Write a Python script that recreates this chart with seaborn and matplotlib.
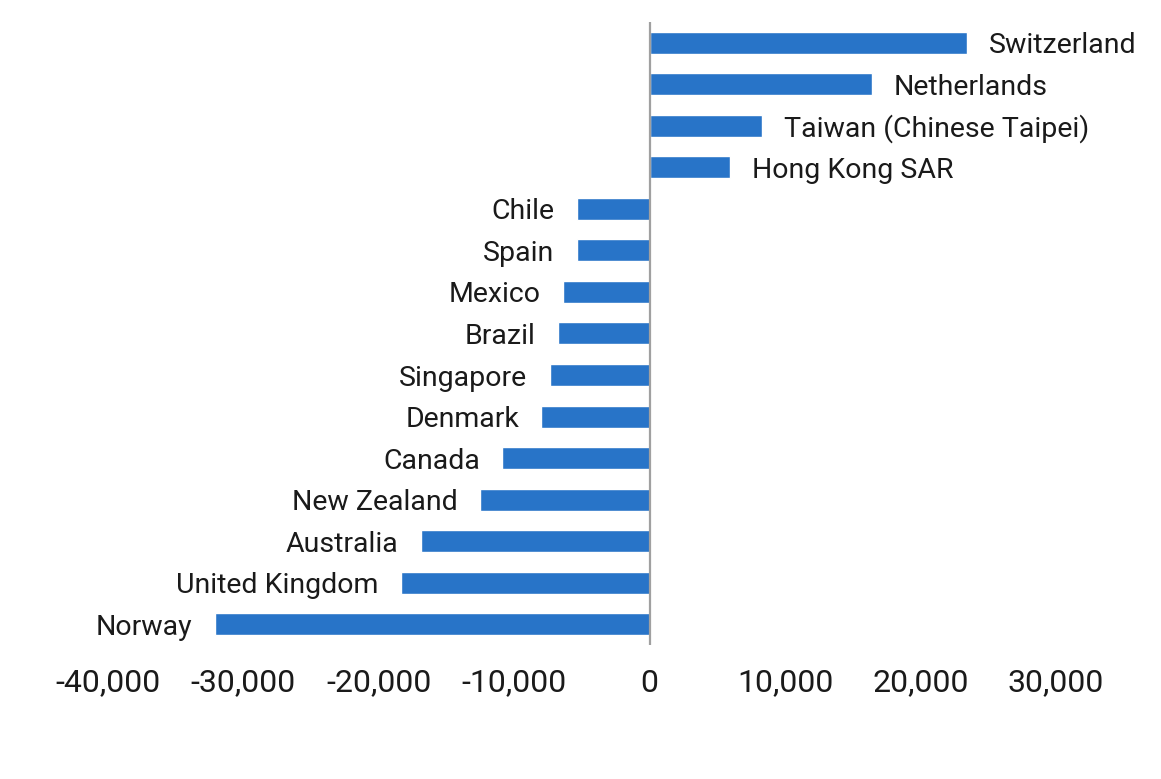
import numpy as np
import seaborn as sb
import pandas as pd
import matplotlib.pyplot as plt

COUNTRIES = ['Switzerland', 'Netherlands', 'Taiwan (Chinese Taipei)', 'Hong Kong SAR',
             'Chile', 'Spain', 'Mexico', 'Brazil', 'Singapore', 'Denmark', 'Canada',
             'New Zealand', 'Australia', 'United Kingdom', 'Norway']
VALUES = [23400, 16400, 8300, 5900,
          -5400, -5400, -6400, -6800, -7400, -8000, -10900,
          -12500, -16900, -18400, -32100]
XTICKS = [-40000, -30000, -20000, -10000, 0, 10000, 20000, 30000]

BAR_COLOR = '#2874C8'
TEXT_COLOR = '#1a1a1a'


def main():
    sb.set_style('white')
    plt.rcParams['font.family'] = ['Roboto', 'DejaVu Sans']

    df = pd.DataFrame({'country': COUNTRIES, 'value': VALUES})

    fig = plt.figure(figsize=(11.61, 7.79), dpi=100)
    ax = fig.add_axes([0.093, 0.172, 0.8166, 0.7998])

    sb.barplot(data=df, x='value', y='country', order=COUNTRIES, color=BAR_COLOR,
               saturation=1, width=0.53, orient='h', ax=ax)

    ax.axvline(0, color='#a0a0a0', linewidth=1.6, zorder=3)

    # country names next to bar ends
    for i, (name, val) in enumerate(zip(COUNTRIES, VALUES)):
        off = 16 if val > 0 else -16
        ax.annotate(name, xy=(val, i), xytext=(off, 0), textcoords='offset points',
                    ha='left' if val > 0 else 'right', va='center_baseline',
                    fontsize=20.5, color=TEXT_COLOR, annotation_clip=False)

    ax.set_xlim(-40000, 30000)
    ax.set_ylim(len(COUNTRIES) - 0.5, -0.5)
    ax.set_xticks(XTICKS)
    ax.set_xticklabels(['{:,}'.format(t) for t in XTICKS])
    ax.tick_params(axis='x', length=0, pad=17, labelsize=23, labelcolor=TEXT_COLOR)
    ax.set_yticks([])
    ax.set(xlabel='', ylabel='')
    for s in ax.spines.values():
        s.set_visible(False)

    fig.savefig('out.png', dpi=100)


if __name__ == '__main__':
    main()
